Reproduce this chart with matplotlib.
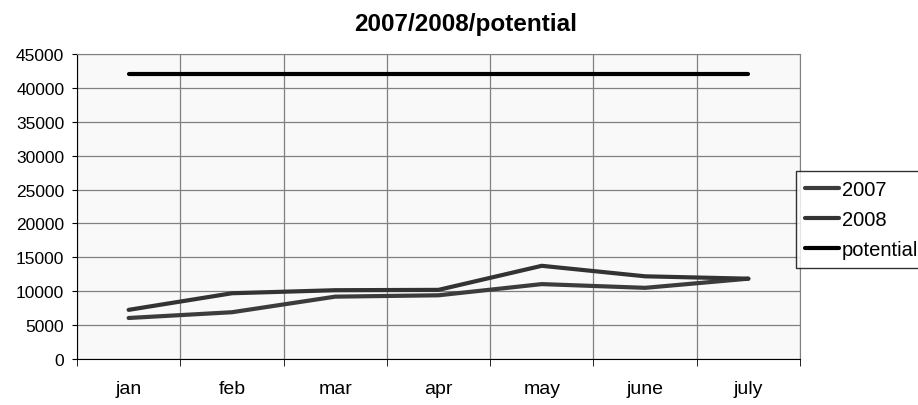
import matplotlib.pyplot as plt
import numpy as np

plt.rcParams["font.family"] = ["Liberation Sans", "DejaVu Sans"]

months = ["jan", "feb", "mar", "apr", "may", "june", "july"]
sales_2007 = [6050, 6900, 9200, 9400, 11050, 10500, 11850]
sales_2008 = [7250, 9700, 10150, 10200, 13750, 12200, 11850]
potential = [42000, 42000, 42000, 42000, 42000, 42000, 42000]

W, H = 918, 406
fig = plt.figure(figsize=(W / 100, H / 100), dpi=100)
ax = fig.add_axes([77 / W, (H - 360) / H, 723 / W, 305 / H])
ax.set_facecolor("#f9f9f9")

x = np.arange(len(months))
ax.plot(x, sales_2007, color="#3c3c3c", lw=3, label="2007", solid_capstyle="round")
ax.plot(x, sales_2008, color="#333333", lw=3, label="2008", solid_capstyle="round")
ax.plot(x, potential, color="black", lw=3, label="potential", solid_capstyle="round")

ax.set_xlim(-0.5, len(months) - 0.5)
ax.set_ylim(0, 45000)
ax.set_yticks(np.arange(0, 45001, 5000))
ax.set_xticks(x)
ax.set_xticklabels(months)
ax.set_xticks(np.arange(-0.5, len(months), 1.0), minor=True)
ax.tick_params(axis="x", which="major", length=0, labelsize=14, pad=15)
ax.tick_params(axis="x", which="minor", length=5, color="black")
ax.tick_params(axis="y", length=3.6, labelsize=12.5, pad=5.5)
ax.grid(True, axis="y", color="#808080", lw=0.9)
ax.grid(True, axis="x", which="minor", color="#808080", lw=0.9)
ax.set_axisbelow(True)

for side in ["top", "right"]:
    ax.spines[side].set_color("#808080")
ax.spines["left"].set_color("black")
ax.spines["bottom"].set_color("black")

fig.suptitle("2007/2008/potential", x=466 / W, y=1 - 25 / H, va="center",
             fontsize=17.5, fontweight="bold")

# legend sticks out past the right edge, as in the original
leg = fig.legend(loc="upper left", bbox_to_anchor=(796 / W, 1 - 172 / H),
                 fontsize=14.5, frameon=True, fancybox=False, edgecolor="black",
                 handlelength=1.7, handletextpad=0.12, borderpad=0.45,
                 labelspacing=0.55, borderaxespad=0)
leg.get_frame().set_linewidth(1)

fig.savefig("out.png", dpi=100)
